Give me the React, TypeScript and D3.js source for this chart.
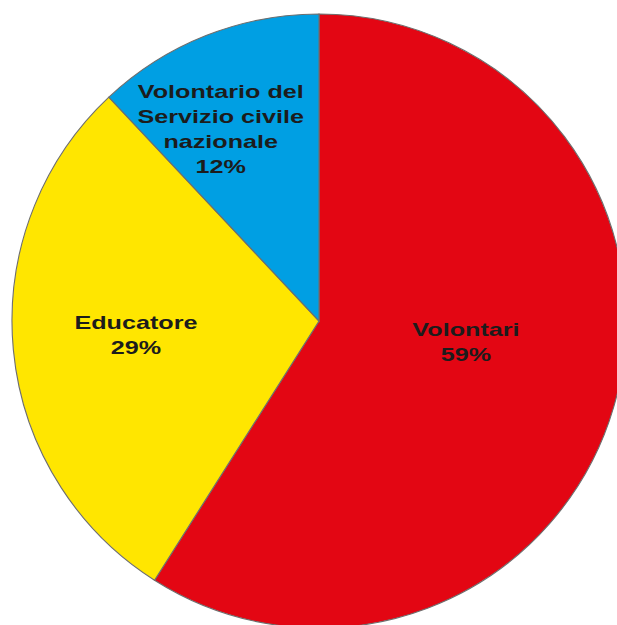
import * as d3 from "d3";

const categories = ["Volontari", "Educatore", "Volontario del Servizio civile nazionale"];
const shares = [59, 29, 12];
const colors = ["#e30613", "#ffe600", "#009fe3"];
// label lines as printed on the chart
const labelLines = [
  ["Volontari", "59%"],
  ["Educatore", "29%"],
  ["Volontario del", "Servizio civile", "nazionale", "12%"],
];

// hand placement of the labels: fraction of radius and angle nudge (degrees)
const labelPlace = [
  { k: 0.484, da: -7.7 },
  { k: 0.598, da: 1 },
  { k: 0.7, da: -5.6 },
];

type Datum = { name: string; value: number; color: string; lines: string[]; i: number };

export default function App() {
  const width = 617;
  const height = 625;
  const cx = 319;
  const cy = 321;
  const r = 307;
  const lineH = 25;

  const data: Datum[] = categories.map((name, i) => ({
    name,
    value: shares[i],
    color: colors[i],
    lines: labelLines[i],
    i,
  }));

  const pie = d3.pie<Datum>().value((d) => d.value).sort(null);
  const arcs = pie(data);
  const arc = d3.arc<d3.PieArcDatum<Datum>>().innerRadius(0).outerRadius(r);

  return (
    <svg
      width={width}
      height={height}
      style={{ position: "absolute", left: 0, top: 0, background: "#fff" }}
    >
      <g transform={`translate(${cx},${cy})`}>
        {arcs.map((a) => (
          <path key={a.data.name} d={arc(a) ?? ""} fill={a.data.color} stroke="#6e6e6e" strokeWidth={1.1} />
        ))}
        {arcs.map((a) => {
          const p = labelPlace[a.data.i];
          const mid = (a.startAngle + a.endAngle) / 2 + (p.da * Math.PI) / 180;
          const [x, y] = d3.pointRadial(mid, p.k * r);
          const n = a.data.lines.length;
          const y0 = -((n - 1) * lineH) / 2 + 6;
          return (
            <g key={a.data.name + "-lab"} transform={`translate(${x},${y}) scale(1.4,1)`}>
              {a.data.lines.map((t, j) => (
                <text
                  key={j}
                  x={0}
                  y={y0 + j * lineH}
                  textAnchor="middle"
                  fontFamily="'Liberation Sans', Arial, sans-serif"
                  fontWeight="bold"
                  fontSize={18}
                  fill="#1c1c1c"
                >
                  {t}
                </text>
              ))}
            </g>
          );
        })}
      </g>
    </svg>
  );
}
